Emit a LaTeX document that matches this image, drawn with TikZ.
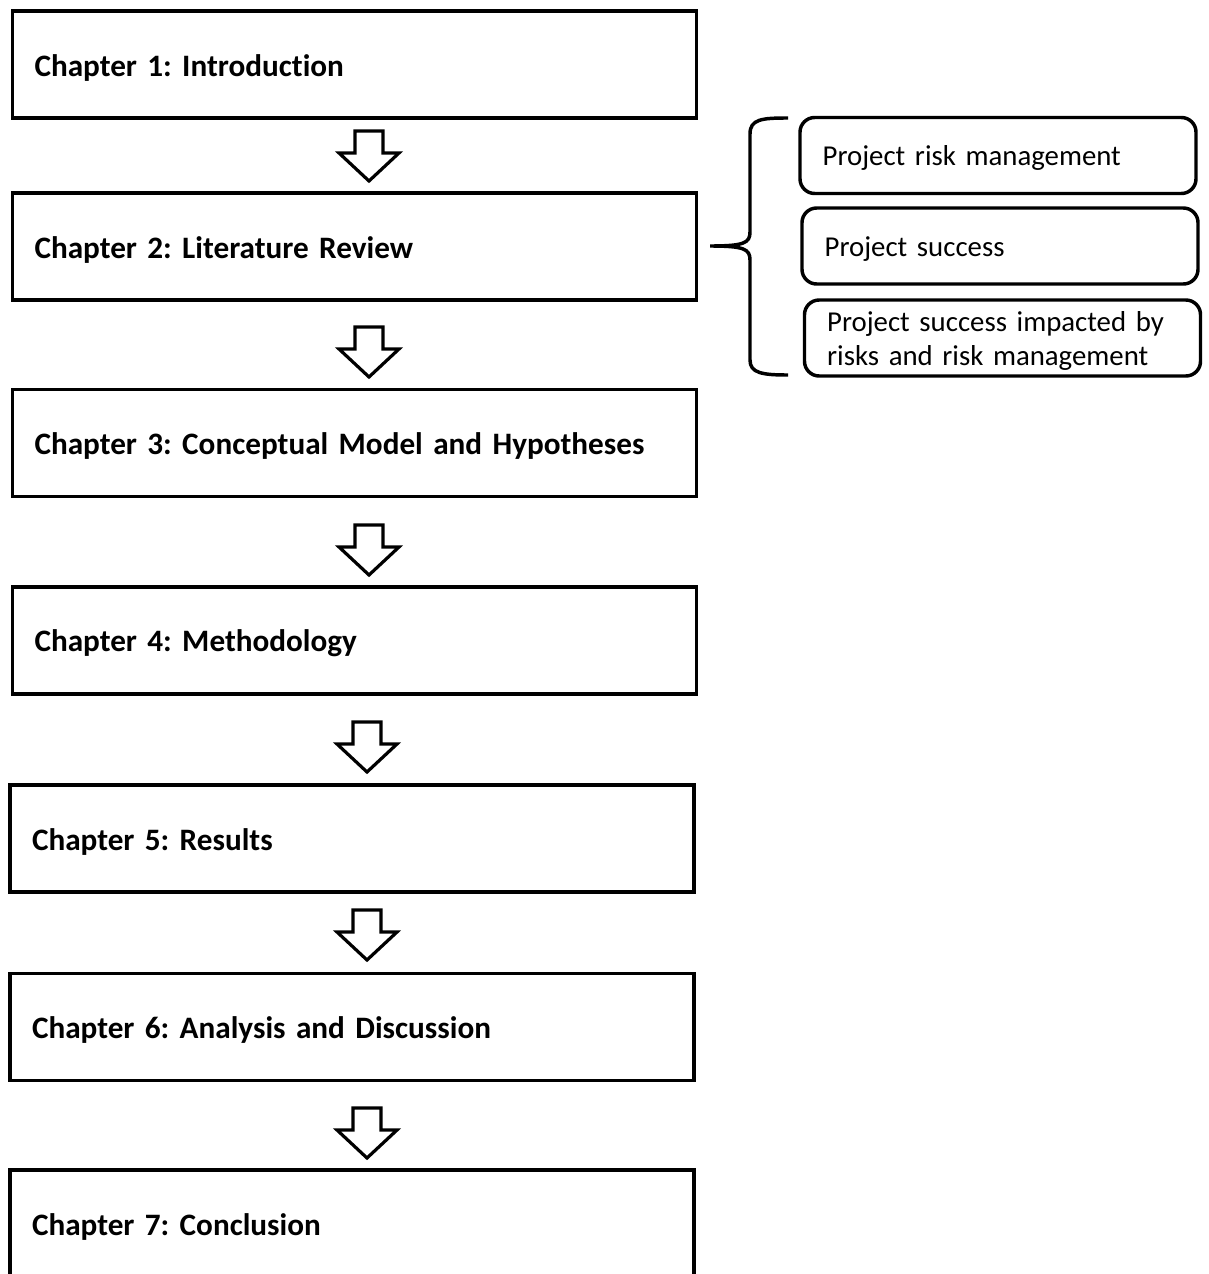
\documentclass[tikz,border=0pt]{standalone}
\usepackage{fontspec}
\setmainfont{Carlito}[Ligatures=NoCommon]
\frenchspacing
\begin{document}
\begin{tikzpicture}[x=0.75pt,y=-0.75pt,
  chapter/.style={draw, line width=2.6pt, rectangle, inner xsep=16.5pt, inner ysep=0pt,
    text width=480pt, align=left, minimum height=80.25pt, font=\bfseries\fontsize{23.4}{27}\selectfont,
    execute at begin node={\rule{0pt}{0.9em}}},
  topic/.style={draw, line width=2.6pt, rounded corners=11pt, inner xsep=17pt, inner ysep=0pt,
    text width=263pt, align=left, minimum height=57pt, font=\fontsize{21.6}{25.5}\selectfont,
    execute at begin node={\rule{0pt}{0.9em}}},
  blockarrow/.pic={
    \draw[line width=2.4pt, line join=miter, fill=white]
      (-14,0) -- (14,0) -- (14,22) -- (30,22) -- (0,50) -- (-30,22) -- (-14,22) -- cycle;
  }]
  \clip (0,0) rectangle (1209,1274);
  \fill[white] (0,0) rectangle (1209,1274);

  % chapter boxes
  \node[chapter] (c1) at (354.5,64.5) {Chapter 1: Introduction};
  \node[chapter] (c2) at (354.5,246.5) {Chapter 2: Literature Review};
  \node[chapter] (c3) at (354.5,443) {Chapter 3: Conceptual Model and Hypotheses};
  \node[chapter] (c4) at (354.5,640.5) {Chapter 4: Methodology};
  \node[chapter] (c5) at (352,838.5) {Chapter 5: Results};
  \node[chapter] (c6) at (352,1027) {Chapter 6: Analysis and Discussion};
  \node[chapter] (c7) at (352,1223.5) {Chapter 7: Conclusion};

  % block arrows between chapters
  \pic at (369,131) {blockarrow};
  \pic at (369,327) {blockarrow};
  \pic at (369,525) {blockarrow};
  \pic at (367,722) {blockarrow};
  \pic at (367,910) {blockarrow};
  \pic at (367,1108) {blockarrow};

  % topics of the literature review
  \node[topic] (t1) at (998,155.5) {Project risk management};
  \node[topic] (t2) at (1000,246) {Project success};
  \node[topic] (t3) at (1002.5,338) {Project success impacted by\\risks and risk management};

  % curly brace grouping the topics
  \draw[line width=2.6pt, line cap=butt]
    (788,118) .. controls (762,118) and (750,119) .. (750,134)
    -- (750,232) .. controls (750,243) and (744,246) .. (710,246)
    .. controls (744,246) and (750,249) .. (750,260)
    -- (750,360) .. controls (750,373) and (762,375) .. (788,375);
\end{tikzpicture}
\end{document}
